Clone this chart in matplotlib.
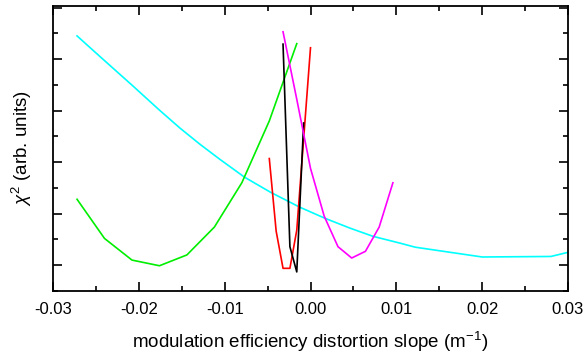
import matplotlib
matplotlib.use('Agg')
import matplotlib.pyplot as plt
from matplotlib.ticker import MultipleLocator, FormatStrFormatter, NullFormatter

# slope values (m^-1) and chi^2 (arb. units) for each fit
cyan_x = [-0.0272, -0.0246, -0.0207, -0.0176, -0.0152, -0.0129, -0.0106, -0.0077, -0.0047,
          -0.0013, 0.0017, 0.0046, 0.0073, 0.0104, 0.0122, 0.0200, 0.0280, 0.0300]
cyan_y = [5.45, 5.06, 4.48, 4.01, 3.66, 3.35, 3.06, 2.71, 2.42,
          2.13, 1.91, 1.72, 1.56, 1.43, 1.35, 1.16, 1.17, 1.25]

green_x = [-0.0272, -0.0240, -0.0208, -0.0176, -0.0144, -0.0112, -0.0080, -0.0048, -0.0016]
green_y = [2.28, 1.52, 1.10, 0.99, 1.20, 1.74, 2.60, 3.80, 5.30]

red_x = [-0.0048, -0.0040, -0.0032, -0.0024, -0.0016, -0.0008, 0.0]
red_y = [3.07, 1.66, 0.94, 0.94, 1.68, 3.45, 5.22]

black_x = [-0.0032, -0.0024, -0.0016, -0.0008]
black_y = [5.29, 1.36, 0.87, 3.76]

magenta_x = [-0.0032, -0.0016, 0.0, 0.0016, 0.0032, 0.0048, 0.0064, 0.0080, 0.0096]
magenta_y = [5.53, 4.22, 2.88, 1.95, 1.36, 1.14, 1.27, 1.74, 2.60]

plt.rcParams['font.family'] = 'Liberation Sans'
plt.rcParams['mathtext.fontset'] = 'custom'
plt.rcParams['mathtext.rm'] = 'Liberation Sans'
plt.rcParams['mathtext.it'] = 'Liberation Sans:italic'

fig = plt.figure(figsize=(5.85, 3.6), dpi=100)
ax = fig.add_axes([53 / 585, 1 - 291 / 360, 515 / 585, 285 / 360])

lw = 1.2
ax.plot(cyan_x, cyan_y, color='#00ffff', lw=lw)
ax.plot(green_x, green_y, color='#00ee00', lw=lw)
ax.plot(red_x, red_y, color='#ff0000', lw=lw)
ax.plot(black_x, black_y, color='black', lw=lw)
ax.plot(magenta_x, magenta_y, color='#ff00ff', lw=lw)

ax.set_xlim(-0.03, 0.03)
ax.set_ylim(0.5, 6.03)

ax.xaxis.set_major_locator(MultipleLocator(0.01))
ax.xaxis.set_minor_locator(MultipleLocator(0.005))
ax.xaxis.set_major_formatter(FormatStrFormatter('%.2f'))
ax.yaxis.set_major_locator(MultipleLocator(1))
ax.yaxis.set_minor_locator(MultipleLocator(0.5))
ax.yaxis.set_major_formatter(NullFormatter())

ax.tick_params(which='both', direction='in', top=True, right=True, width=1.2)
ax.tick_params(which='major', length=6.5, labelsize=12, pad=8)
ax.tick_params(which='minor', length=3.6)
for s in ax.spines.values():
    s.set_linewidth(1.3)

ax.set_xlabel('modulation efficiency distortion slope (m$^{-1}$)', fontsize=13.5, labelpad=9)
ax.set_ylabel(r'$\it{\chi}^{2}$ (arb. units)', fontsize=13.5, labelpad=6)

fig.savefig('out.png', dpi=100)
